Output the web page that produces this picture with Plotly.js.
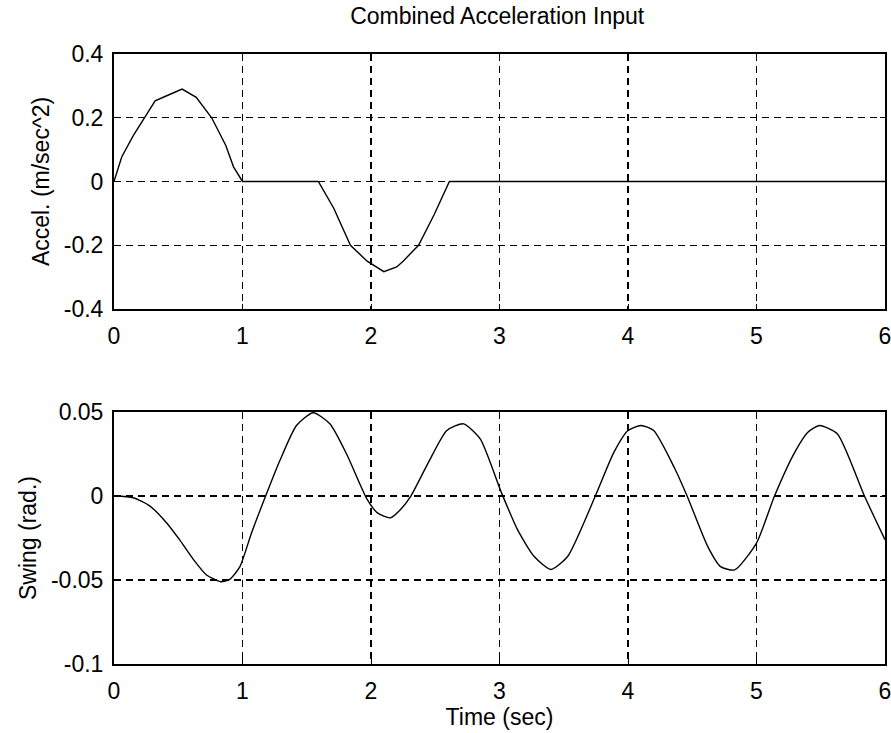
<!DOCTYPE html>
<html>
<head>
<meta charset="utf-8">
<script src="https://cdn.plot.ly/plotly-3.0.1.min.js"></script>
<style>
html,body{margin:0;padding:0;background:#fff;}
#chart{width:891px;height:733px;}
</style>
</head>
<body>
<div id="chart"></div>
<script>
// Top panel: combined acceleration input (m/sec^2)
const timeAccel = [0, 0.06, 0.15, 0.24, 0.32, 0.41, 0.53, 0.64, 0.76, 0.87, 0.93, 1.0, 1.59, 1.71, 1.84, 1.97, 2.10, 2.20, 2.25, 2.37, 2.49, 2.61, 6.0];
const accel     = [0, 0.077, 0.144, 0.2, 0.253, 0.269, 0.29, 0.264, 0.2, 0.113, 0.046, 0, 0, -0.084, -0.2, -0.25, -0.283, -0.268, -0.25, -0.2, -0.105, 0, 0];

// Bottom panel: swing angle (rad.)
const timeSwing = [0, 0.15, 0.28, 0.41, 0.51, 0.62, 0.72, 0.83, 0.90, 0.98, 1.07, 1.18, 1.29, 1.42, 1.55, 1.68, 1.81, 1.97, 2.05, 2.15, 2.23, 2.31, 2.44, 2.59, 2.72, 2.85, 3.01, 3.14, 3.27, 3.40, 3.53, 3.74, 3.89, 4.00, 4.10, 4.20, 4.36, 4.46, 4.62, 4.72, 4.83, 5.00, 5.14, 5.29, 5.40, 5.49, 5.63, 5.84, 6.0];
const swing     = [0, -0.001, -0.006, -0.016, -0.026, -0.038, -0.047, -0.051, -0.0496, -0.042, -0.022, 0, 0.021, 0.042, 0.0496, 0.043, 0.025, -0.002, -0.010, -0.013, -0.008, 0, 0.019, 0.039, 0.043, 0.034, 0.003, -0.020, -0.036, -0.0437, -0.036, -0.001, 0.026, 0.039, 0.042, 0.039, 0.017, 0, -0.030, -0.042, -0.044, -0.028, 0, 0.025, 0.038, 0.042, 0.037, 0, -0.026];

const xTicks = [0, 1, 2, 3, 4, 5, 6];
const xTickText = ["0", "1", "2", "3", "4", "5", "6"];
const accelTicks = [-0.4, -0.2, 0, 0.2, 0.4];
const accelTickText = ["-0.4", "-0.2", "0", "0.2", "0.4"];
const swingTicks = [-0.1, -0.05, 0, 0.05];
const swingTickText = ["-0.1", "-0.05", "0", "0.05"];

const FONT = "Liberation Sans, Arial, sans-serif";
const FS = 23;

const traces = [
  {x: timeAccel, y: accel, xaxis: 'x', yaxis: 'y', type: 'scatter', mode: 'lines',
   line: {color: '#000', width: 1.4}, hoverinfo: 'none'},
  {x: timeSwing, y: swing, xaxis: 'x2', yaxis: 'y2', type: 'scatter', mode: 'lines',
   line: {color: '#000', width: 1.4, shape: 'spline', smoothing: 0.6}, hoverinfo: 'none'}
];

function xAxis(domainAnchor, withTitle) {
  const a = {
    anchor: domainAnchor, range: [0, 6], tickvals: xTicks, ticktext: xTickText,
    showline: true, linecolor: '#000', linewidth: 2, mirror: 'ticks',
    ticks: 'inside', ticklen: 5, tickcolor: '#000', tickwidth: 1,
    showgrid: true, gridcolor: '#000', gridwidth: 1.4, griddash: '7px,5px',
    zeroline: false, tickfont: {family: FONT, size: FS, color: '#000'},
    ticklabelstandoff: 5, ticklabeloverflow: 'allow', fixedrange: true
  };
  if (withTitle) a.title = {text: 'Time (sec)', font: {family: FONT, size: FS, color: '#000'}, standoff: 0};
  return a;
}
function yAxis(domain, anchor, range, vals, text, title) {
  return {
    domain: domain, anchor: anchor, range: range, tickvals: vals, ticktext: text,
    showline: true, linecolor: '#000', linewidth: 2, mirror: 'ticks',
    ticks: 'inside', ticklen: 5, tickcolor: '#000', tickwidth: 1,
    showgrid: true, gridcolor: '#000', gridwidth: 1.4, griddash: '7px,5px',
    zeroline: false, tickfont: {family: FONT, size: FS, color: '#000'},
    ticklabelstandoff: 4, ticklabeloverflow: 'allow', fixedrange: true,
    title: {text: title, font: {family: FONT, size: FS, color: '#000'}, standoff: 8}
  };
}

const layout = {
  width: 891, height: 733,
  margin: {l: 114, r: 6, t: 54, b: 69},
  paper_bgcolor: '#fff', plot_bgcolor: '#fff',
  showlegend: false,
  font: {family: FONT, color: '#000'},
  title: {text: 'Combined Acceleration Input', font: {family: FONT, size: FS, color: '#000'},
          x: 0.558, xanchor: 'center', y: 0.978, yanchor: 'middle', xref: 'container', yref: 'container'},
  xaxis: xAxis('y', false),
  yaxis: yAxis([0.582, 1], 'x', [-0.4, 0.4], accelTicks, accelTickText, 'Accel. (m/sec^2)'),
  xaxis2: xAxis('y2', true),
  yaxis2: yAxis([0, 0.413], 'x2', [-0.1, 0.05], swingTicks, swingTickText, 'Swing (rad.)')
};

Plotly.newPlot('chart', traces, layout, {displayModeBar: false, staticPlot: true});
</script>
</body>
</html>
